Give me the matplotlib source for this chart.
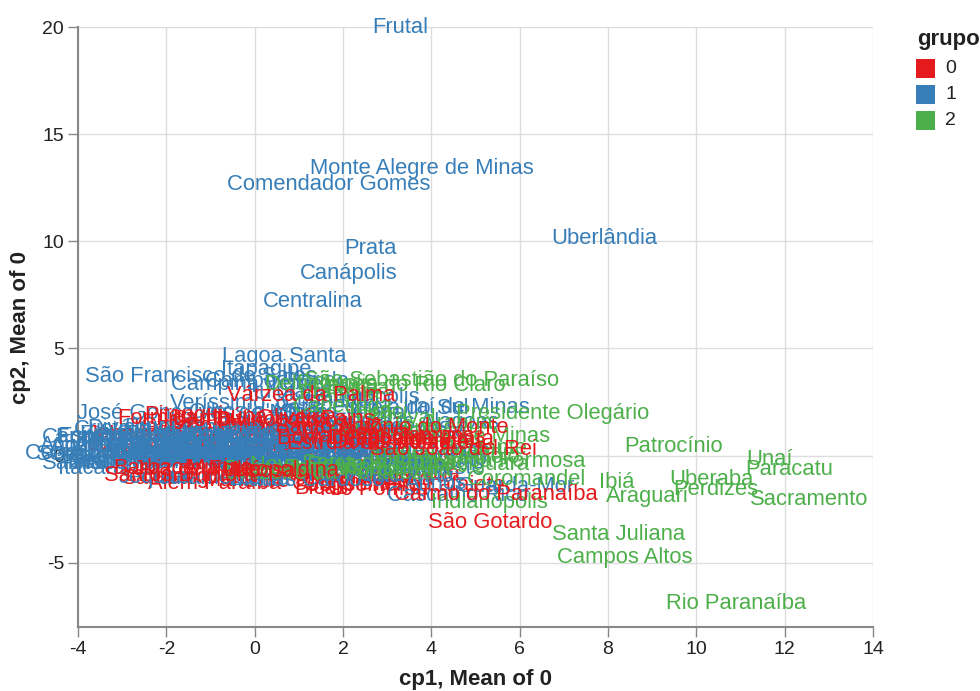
import matplotlib
matplotlib.use("Agg")
import matplotlib.pyplot as plt
from matplotlib.patches import Rectangle

plt.rcParams['font.family'] = ['Liberation Sans', 'DejaVu Sans']
plt.rcParams['axes.unicode_minus'] = False

# ---------------- data ----------------
# grupo 1 (blue)
names_1 = [
    "Frutal", "Monte Alegre de Minas", "Comendador Gomes", "Prata", "Canápolis",
    "Centralina", "Uberlândia", "Lagoa Santa", "São Francisco de Sales", "Itapagipe",
    "Campina Verde", "Campo Florido", "Veríssimo", "Conceição das Alagoas", "Iraí de Minas",
    "Guarda-Mor", "José Gonçalves de Minas", "Ituiutaba", "Gurinhatã", "Capinópolis",
    "Estrela do Sul", "Araporã", "Cascalho Rico",
    # row ~0.0
    "Serranos", "Sericita", "Cedro do Abaeté", "Catas Altas", "Datas", "Coluna", "Divino",
    "Dom Joaquim", "Felixlândia", "Gouveia", "Guanhães", "Ipatinga", "Itamarandiba",
    "Jequitinhonha", "Januária", "Lassance", "Mantena", "Medina", "Mirabela", "Nanuque",
    "Pirapora",
    # row ~0.45
    "Açucena", "Água Boa", "Aimorés", "Almenara", "Alpercata", "Araçuaí", "Ataléia",
    "Berilo", "Bertópolis", "Bocaiúva", "Botumirim", "Buritizeiro", "Caraí", "Capelinha",
    "Carbonita", "Chapada do Norte", "Comercinho", "Coroaci", "Crisólita",
    # row ~0.85
    "Capitólio", "Espinosa", "Francisco Sá", "Frei Gaspar", "Galiléia", "Grão Mogol",
    "Itaobim", "Itinga", "Jacinto", "Jaíba", "Janaúba", "Joaíma", "Ladainha",
    "Malacacheta", "Manga",
    # row ~-0.3
    "Salinas", "Serro", "Taiobeiras", "Teófilo Otoni", "Turmalina", "Rubim", "Pedra Azul",
    "Padre Paraíso", "Novo Cruzeiro", "Montalvânia", "Monte Azul", "Minas Novas",
    "Mato Verde", "Porteirinha", "Rio Pardo de Minas", "Virgem da Lapa", "Urucuia",
    # lower / upper scattered
    "Itacarambi", "Jequitaí", "Juramento", "Lontra", "Matias Cardoso", "Pai Pedro",
    "Riachinho", "Arinos", "Cristália", "Divisópolis", "Fruta de Leite", "Indaiabira",
    "Josenópolis", "Ninheira", "Olhos-d'Água", "Patis", "Santa Vitória", "Iturama",
    "União de Minas", "Limeira do Oeste", "Carneirinho",
]
cp1_1 = [
    3.29, 3.79, 1.68, 2.63, 2.13,
    1.32, 7.91, 0.66, -1.22, 0.27,
    -0.18, 0.50, -0.82, 2.95, 4.80,
    5.92, -1.18, 0.77, 1.68, 2.45,
    3.30, 3.95, 4.60,
    -3.95, -3.65, -3.35, -3.05, -2.75, -2.45, -2.15,
    -1.85, -1.55, -1.25, -0.95, -0.65, -0.35,
    -0.05, 0.35, 0.75, 1.15, 1.60, 2.05, 2.55,
    3.05,
    -3.90, -3.55, -3.20, -2.90, -2.60, -2.30, -2.00,
    -1.70, -1.40, -1.10, -0.80, -0.50, -0.20, 0.20,
    0.60, 1.00, 1.45, 1.90, 2.40,
    -3.85, -3.45, -3.05, -2.65, -2.25, -1.85,
    -1.45, -1.05, -0.65, -0.25, 0.20, 0.65, 1.15,
    1.70, 2.20,
    -4.00, -3.60, -3.20, -2.80, -2.40, -2.00, -1.60,
    -1.20, -0.80, -0.40, 0.00, 0.50,
    1.00, 1.50, 2.00, 2.60, 3.30,
    -3.30, -2.20, -1.00, 0.10, 1.20, 2.30,
    3.40, 4.10, -3.20, -2.60, -1.40, -0.20,
    1.00, 2.20, 0.00, 1.00, 2.00, 2.60,
    3.60, 3.30, 4.00,
]
cp2_1 = [
    20.0, 13.39, 12.64, 9.65, 8.49,
    7.18, 10.12, 4.62, 3.68, 4.00,
    3.31, 3.45, 2.43, 1.54, 2.24,
    -1.45, 1.96, 2.94, 2.57, 2.70,
    2.20, 1.12, -1.85,
    0.05, -0.05, 0.10, -0.05, 0.10, 0.20, 0.05,
    0.15, 0.05, 0.17, 0.00, 0.10, 0.15,
    -0.05, 0.05, 0.15, -0.05, 0.10, -0.10, 0.12,
    -0.05,
    0.45, 0.50, 0.45, 0.60, 0.50, 0.55, 0.45,
    0.60, 0.50, 0.60, 0.45, 0.55, 0.50, 0.55,
    0.40, 0.50, 0.60, 0.45, 0.55,
    0.85, 0.90, 0.85, 1.00, 0.90, 1.00,
    0.85, 0.95, 0.90, 0.95, 0.80, 0.90, 0.85,
    0.95, 0.85,
    -0.35, -0.30, -0.35, -0.25, -0.25, -0.30, -0.20,
    -0.30, -0.25, -0.35, -0.30, -0.40,
    -0.35, -0.45, -0.30, -0.40, -0.50,
    -0.60, -1.00, -1.05, -1.10, -1.15, -0.95,
    -1.00, -1.30, 1.20, 1.25, 1.30, 1.25,
    1.45, 1.35, 2.10, 2.20, 1.95, 1.15,
    0.20, -0.60, -0.20,
]

# grupo 0 (red): first block is drawn above the other groups, second block below
names_0 = [
    "Várzea da Palma", "São Gotardo", "São João del Rei", "Lagoa da Prata", "Carmo do Paranaíba",
    "Santo Antônio do Monte", "Martinho Campos", "Dores do Indaiá", "Estrela do Indaiá",
    "Abaeté", "Bom Despacho", "Moema", "Formiga", "Pitangui", "Bambuí", "Itaúna",
    "Divinópolis", "Oliveira", "Arcos", "Pains", "Luz",
    "Barbacena", "Juiz de Fora", "Muriaé", "Ubá", "Viçosa", "Leopoldina", "Santos Dumont",
    # below
    "Lavras", "Campo Belo", "Candeias", "Cláudio", "Pimenta", "Piumhi", "Iguatama",
    "Japaraíba", "Lagoa Dourada", "Cataguases", "Ponte Nova", "Manhuaçu", "Caratinga",
    "Carangola", "Mariana", "Ouro Preto", "Congonhas", "Conselheiro Lafaiete",
    "Além Paraíba", "Bicas", "Rio Pomba", "Ervália", "Sabará", "Itabira", "Santa Luzia",
    "Sete Lagoas", "Curvelo", "Betim", "Contagem", "Nova Lima", "Pará de Minas",
    "Mateus Leme", "Igarapé", "Esmeraldas", "Florestal", "Pedro Leopoldo",
]
cp1_0 = [
    1.27, 5.33, 4.50, 3.72, 5.46,
    3.10, 3.00, 3.50, 2.60,
    4.10, 2.20, 2.70, -2.20, -1.60, -1.00, -0.40,
    0.30, 0.90, 1.50, 2.10, 2.50,
    -2.00, -1.40, -0.80, -0.30, 0.20, 0.70, -1.70,
    -2.00, -1.20, -0.50, 0.20, 0.80, 1.40, 2.00,
    -2.70, -1.60, 1.20, 1.80, 2.40, 3.00,
    -1.50, -0.30, 0.90, 2.10, 3.40,
    -0.90, 1.50, 2.70, 3.90, -2.20, -2.30, -2.00,
    -2.40, -1.80, -1.30, -0.70, 0.10, 0.70,
    1.60, 2.30, 3.20, -0.20, 1.10,
]
cp2_0 = [
    2.80, -3.12, 0.28, 0.75, -1.82,
    1.30, 0.90, 0.60, 0.55,
    0.55, 0.80, 1.05, 1.75, 1.85, 1.70, 1.80,
    1.65, 1.75, 1.60, 1.70, 1.40,
    -0.60, -0.65, -0.60, -0.70, -0.75, -0.70, -0.95,
    1.30, 1.35, 1.25, 1.30, 1.20, 1.25, 1.15,
    1.00, 1.00, -0.90, -0.85, -1.00, -1.10,
    -1.00, -1.15, -1.20, -1.35, -1.40,
    -1.30, -1.55, -1.60, -0.90, -1.05, 0.35, 0.70,
    0.20, 0.50, 0.10, 0.45, 0.20, 0.50,
    0.30, 0.00, -0.20, 0.90, 0.95,
]
n_red_on_top = 28

# grupo 2 (green)
names_2 = [
    "São Sebastião do Paraíso", "Carmo do Rio Claro", "Presidente Olegário", "Patos de Minas",
    "Lagoa Formosa", "Coromandel", "Indianópolis", "Santa Juliana", "Campos Altos",
    "Rio Paranaíba", "Patrocínio", "Ibiá", "Araguari", "Uberaba", "Perdizes", "Unaí",
    "Paracatu", "Sacramento", "Tupaciguara", "Nova Ponte", "Pedrinópolis", "Serra do Salitre",
    "Romaria", "Monte Carmelo", "Tiros", "Delfinópolis", "Cássia", "Pratinha", "Ibiraci",
    "Claraval", "Capetinga", "Guimarânia", "Lagoa Grande", "Vazante", "Douradoquara",
    "Cruzeiro da Fortaleza", "Arapuá",
]
cp1_2 = [
    4.01, 3.49, 6.75, 4.97,
    5.76, 6.15, 5.31, 8.25, 8.37,
    10.90, 9.48, 8.19, 8.89, 10.34, 10.45, 11.66,
    12.11, 12.56, 4.85, 1.2, 2.0, 2.8,
    3.5, 4.3, 3.9, 1.5, 2.3, 1.9, 2.8,
    3.2, 2.0, 3.0, 4.3, 5.3, 0.9,
    1.7, 4.6,
]
cp2_2 = [
    3.50, 3.26, 1.96, 0.89,
    -0.28, -1.12, -2.20, -3.68, -4.76,
    -6.90, 0.42, -1.26, -1.91, -1.12, -1.59, -0.19,
    -0.65, -2.05, -0.42, -0.45, -0.60, -0.35,
    -0.70, -0.10, 0.95, 3.30, 3.15, 2.90, 2.00,
    1.75, 2.30, 1.20, 0.10, 0.35, -0.65,
    -0.85, 1.50,
]

groups = ["0", "1", "2"]
colors = {"0": "#e41a1c", "1": "#377eb8", "2": "#4daf4a"}

# ---------------- figure ----------------
W, H = 980, 691
fig = plt.figure(figsize=(W / 100, H / 100), dpi=100)
ax = fig.add_axes([78 / W, (H - 627) / H, (873 - 78) / W, (627 - 27) / H])
ax.set_xlim(-4, 14)
ax.set_ylim(-8, 20)
ax.set_xticks(list(range(-4, 15, 2)))
ax.set_yticks([-5, 0, 5, 10, 15, 20])
ax.grid(True, color="#dddddd", linewidth=1)
ax.set_axisbelow(True)
for s in ["top", "right"]:
    ax.spines[s].set_visible(False)
for s in ["left", "bottom"]:
    ax.spines[s].set_color("#888888")
    ax.spines[s].set_linewidth(1.5)
ax.tick_params(direction="out", length=7, width=1, color="#888888",
               labelsize=14, labelcolor="#222222", pad=3)

ax.set_xlabel("cp1, Mean of 0", fontsize=16, fontweight="bold", labelpad=8, color="#222222")
ax.set_ylabel("cp2, Mean of 0", fontsize=16, fontweight="bold", labelpad=8, color="#222222")


def draw(names, xs, ys, g):
    for n, x, y in zip(names, xs, ys):
        ax.text(x, y, n, color=colors[g], fontsize=15.8, ha="center", va="center",
                clip_on=False)


k = n_red_on_top
draw(names_0[k:], cp1_0[k:], cp2_0[k:], "0")
draw(names_1, cp1_1, cp2_1, "1")
draw(names_2, cp1_2, cp2_2, "2")
draw(names_0[:k], cp1_0[:k], cp2_0[:k], "0")

# legend
fig.text(917 / W, 1 - 40 / H, "grupo", fontsize=16, fontweight="bold",
         ha="left", va="center", color="#222222")
for i, g in enumerate(groups):
    yc = 68.5 + 26 * i
    fig.patches.append(Rectangle((916 / W, 1 - (yc + 9.5) / H), 19 / W, 19 / H,
                                 transform=fig.transFigure, facecolor=colors[g],
                                 edgecolor="none"))
    fig.text(945 / W, 1 - yc / H, g, fontsize=14, ha="left", va="center", color="#222222")

fig.savefig("out.png", dpi=100)
